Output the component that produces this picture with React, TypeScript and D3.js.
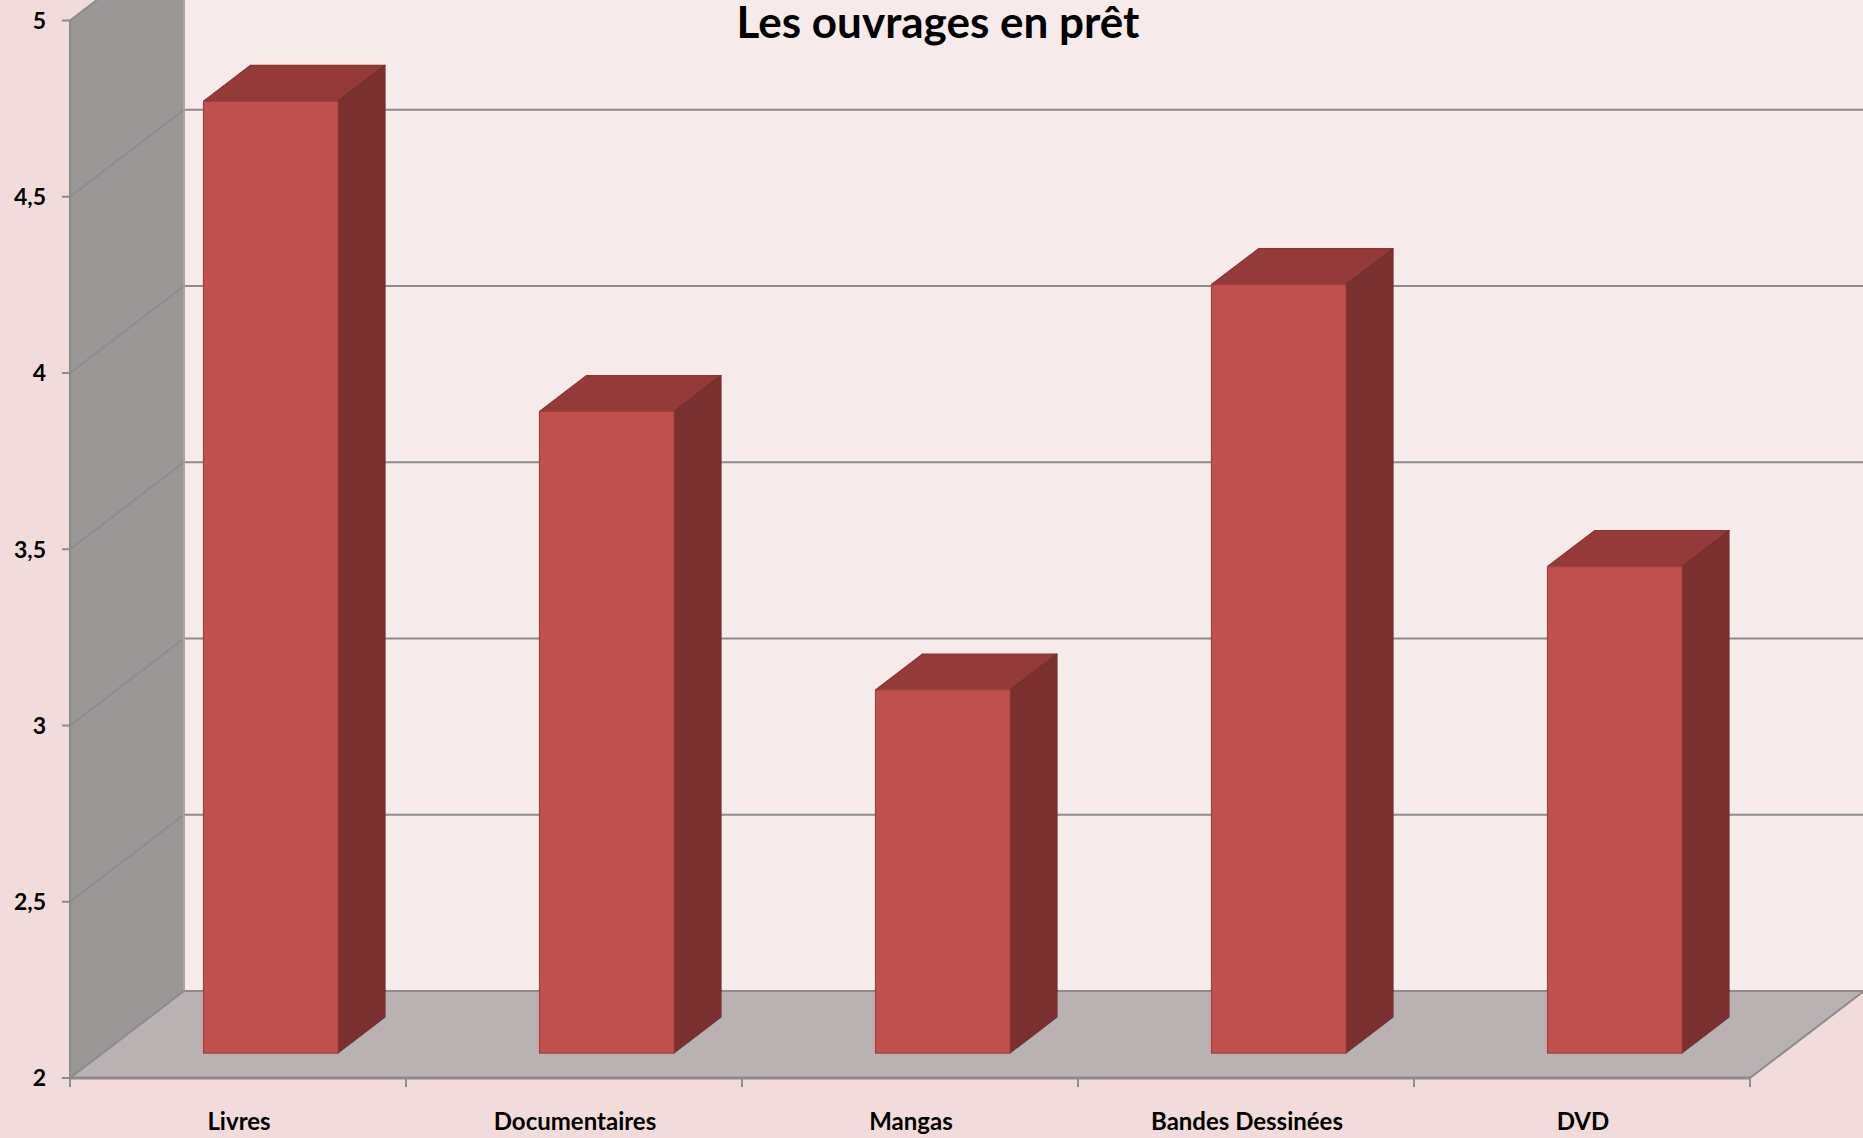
import * as d3 from "d3";

const categories = ["Livres", "Documentaires", "Mangas", "Bandes Dessinées", "DVD"];
const values = [4.7, 3.82, 3.03, 4.18, 3.38];
const yTicks = [2, 2.5, 3, 3.5, 4, 4.5, 5];
const title = "Les ouvrages en prêt";

const W = 1863;
const H = 1138;
// projection of the depth axis (full depth of the floor)
const DX = 114;
const DY = -87;
const depthFront = 0.287;
const depthBack = 0.7;

const fr = d3.formatLocale({ decimal: ",", thousands: " ", grouping: [3], currency: ["", "€"] });
const fmt = fr.format("~g");

const font = "Lato, 'Open Sans', sans-serif";

export default function App() {
	const x = d3.scaleBand<string>(categories, [70, 1750]);
	const y = d3.scaleLinear([2, 5], [1078, 20.5]);
	const step = x.step();
	const bw = step * 0.4;

	const y0 = y(2);
	const yTop = y(5);
	const xL = x.range()[0];
	const xR = x.range()[1];

	const pts = (p: number[][]) => p.map((d) => d.join(",")).join(" ");

	return (
		<svg width={W} height={H} style={{ position: "absolute", left: 0, top: 0 }} fontFamily={font}>
			<rect width={W} height={H} fill="#f2dcdb" />
			{/* back wall */}
			<rect x={xL + DX} y={yTop + DY} width={W - xL - DX + 200} height={y0 - yTop} fill="#f6eaea" />
			{/* side wall */}
			<polygon points={pts([[xL, yTop], [xL + DX, yTop + DY], [xL + DX, y0 + DY], [xL, y0]])} fill="#9b9796" />
			{/* floor */}
			<polygon points={pts([[xL, y0], [xL + DX, y0 + DY], [xR + DX, y0 + DY], [xR, y0]])} fill="#bab2b2" />

			{/* gridlines */}
			<g stroke="#8c8c8c" strokeWidth={2} fill="none">
				{yTicks.map((t) => (
					<g key={t}>
						<line x1={xL + DX} x2={W + 50} y1={y(t) + DY} y2={y(t) + DY} />
						<line x1={xL} x2={xL + DX} y1={y(t)} y2={y(t) + DY} />
					</g>
				))}
				<line x1={xL} x2={xL} y1={yTop} y2={y0} />
				<line x1={xL + DX} x2={xL + DX} y1={yTop + DY} y2={y0 + DY} stroke="#a9a6a5" />
				<line x1={xR} x2={xR + DX} y1={y0} y2={y0 + DY} />
				<line x1={xL} x2={xR} y1={y0} y2={y0} strokeWidth={3} />
				{yTicks.map((t) => (
					<line key={"t" + t} x1={xL - 8} x2={xL} y1={y(t)} y2={y(t)} />
				))}
				{d3.range(categories.length + 1).map((i) => (
					<line key={"c" + i} x1={xL + i * step} x2={xL + i * step} y1={y0} y2={y0 + 9} />
				))}
			</g>

			{/* bars */}
			{categories.map((c, i) => {
				const fx = x(c)! + (step - bw) / 2 + depthFront * DX;
				const fy = depthFront * DY;
				const ddx = (depthBack - depthFront) * DX;
				const ddy = (depthBack - depthFront) * DY;
				const top = y(values[i]) + fy;
				const bot = y(2) + fy;
				return (
					<g key={c} strokeWidth={1.2} strokeLinejoin="round">
						<polygon
							points={pts([[fx, top], [fx + ddx, top + ddy], [fx + bw + ddx, top + ddy], [fx + bw, top]])}
							fill="#943b39"
							stroke="#8a3533"
						/>
						<polygon
							points={pts([[fx + bw, top], [fx + bw + ddx, top + ddy], [fx + bw + ddx, bot + ddy], [fx + bw, bot]])}
							fill="#7b3030"
							stroke="#743030"
						/>
						<rect x={fx} y={top} width={bw} height={bot - top} fill="#c0504d" stroke="#a3403e" />
					</g>
				);
			})}

			{/* y labels */}
			<g fontSize={23} fontWeight="bold" textAnchor="end" fill="#000">
				{yTicks.map((t) => (
					<text key={t} x={46} y={y(t)} dy="0.36em">
						{fmt(t)}
					</text>
				))}
			</g>
			{/* category labels */}
			<g fontSize={24} fontWeight="bold" textAnchor="middle" fill="#000">
				{categories.map((c) => (
					<text key={c} x={x(c)! + step / 2 + 1} y={1130}>
						{c}
					</text>
				))}
			</g>
			<text x={938} y={38} textAnchor="middle" fontSize={44} fontWeight="bold" fill="#000">
				{title}
			</text>
		</svg>
	);
}
